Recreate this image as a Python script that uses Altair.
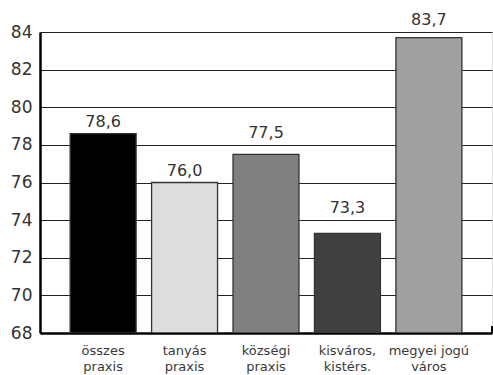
import altair as alt
import pandas as pd

categories = ["összes praxis", "tanyás praxis", "községi praxis", "kisváros, kistérs.", "megyei jogú város"]
label_lines = [["összes", "praxis"], ["tanyás", "praxis"], ["községi", "praxis"], ["kisváros,", "kistérs."], ["megyei jogú", "város"]]
values = [78.6, 76.0, 77.5, 73.3, 83.7]
colors = ["#000000", "#dddddd", "#808080", "#404040", "#a0a0a0"]
y_ticks = [68, 70, 72, 74, 76, 78, 80, 82, 84]

df = pd.DataFrame({
    "cat": categories,
    "value": values,
    "label": [f"{v:.1f}".replace(".", ",") for v in values],
})

label_expr = "{" + ", ".join(
    f'"{c}": ["{a}", "{b}"]' for c, (a, b) in zip(categories, label_lines)
) + "}[datum.value]"

FONT = "DejaVu Sans"
W, H = 452, 301
yscale = alt.Scale(domain=[68, 84], nice=False, zero=False)

x = alt.X("cat:N", sort=categories,
          scale=alt.Scale(paddingInner=0.19, paddingOuter=0.37),
          axis=alt.Axis(title=None, labelAngle=0, labelExpr=label_expr,
                        labelFont=FONT, labelFontSize=13, labelColor="#3a3a3a",
                        labelPadding=11, labelLineHeight=16, ticks=False,
                        domainColor="#000000", domainWidth=2.5))
yaxis = alt.Axis(title=None, values=y_ticks, ticks=False, labelOverlap=False,
                 labelFont=FONT, labelFontSize=17, labelColor="#333333",
                 labelPadding=8, domainColor="#000000", domainWidth=2.5,
                 grid=True, gridColor="#222222", gridWidth=1.2)
y = alt.Y("value:Q", scale=yscale, axis=yaxis)

bars = alt.Chart(df).mark_bar(stroke="#333333", strokeWidth=1.3, clip=True).encode(
    x=x, y=y, y2=alt.datum(68),
    color=alt.Color("cat:N", scale=alt.Scale(domain=categories, range=colors), legend=None),
)

# value labels sit just above the bar, pushed above the next gridline if they would cross it
text = alt.Chart(df).transform_calculate(
    g="ceil((datum.value + 0.001) / 2) * 2",
).transform_calculate(
    label_y="datum.g <= datum.value + 1.2 ? datum.g + 0.65 : datum.value + 0.6",
).mark_text(font=FONT, fontSize=16, color="#333333", baseline="middle").encode(
    x=x, y=alt.Y("label_y:Q", scale=yscale, axis=yaxis), text="label:N"
)

end_tick = alt.Chart(df).mark_rule(color="#000000", strokeWidth=1.5).encode(
    x=alt.value(W), y=alt.value(H - 7), y2=alt.value(H)
)

chart = alt.layer(bars, text, end_tick).properties(
    width=W, height=H,
    autosize=alt.AutoSizeParams(type="none"),
    padding={"left": 40, "top": 32, "right": 1, "bottom": 42},
).configure_view(stroke=None).configure(background="white")

chart.save("out.html", embed_options={"renderer": "svg", "actions": False})
